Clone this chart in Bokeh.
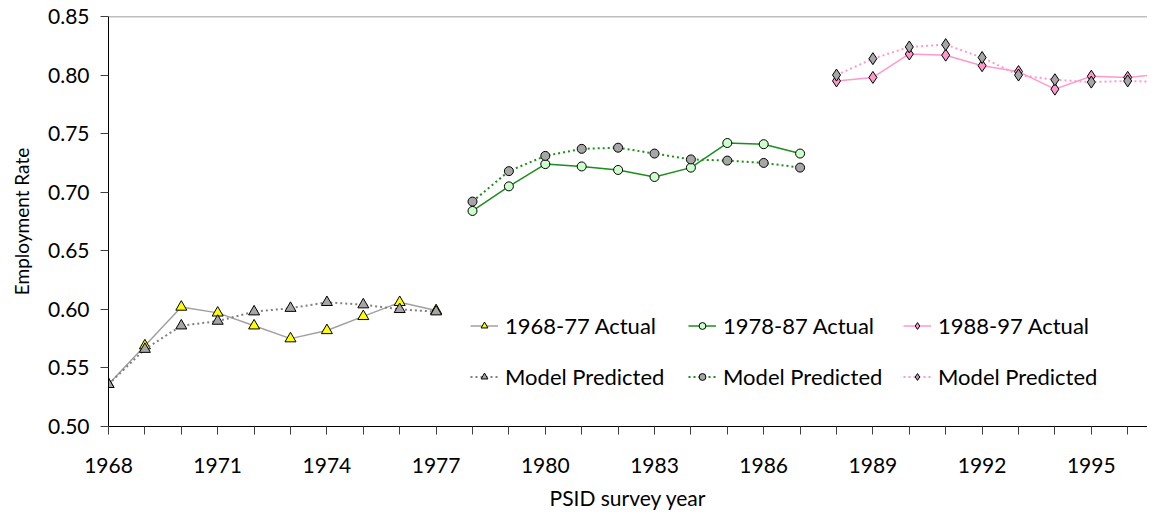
from bokeh.plotting import figure
from bokeh.models import (Range1d, FixedTicker, NumeralTickFormatter, Legend, LegendItem,
                          Span, ColumnDataSource)
from bokeh.embed import file_html
from bokeh.resources import INLINE

# ---- data ----
years_1 = list(range(1968, 1978))
actual_1 = [0.536, 0.569, 0.602, 0.597, 0.586, 0.575, 0.582, 0.594, 0.606, 0.599]
pred_1 = [0.536, 0.566, 0.586, 0.590, 0.598, 0.601, 0.606, 0.604, 0.600, 0.598]

years_2 = list(range(1978, 1988))
actual_2 = [0.684, 0.705, 0.724, 0.722, 0.719, 0.713, 0.721, 0.742, 0.741, 0.733]
pred_2 = [0.692, 0.718, 0.731, 0.737, 0.738, 0.733, 0.728, 0.727, 0.725, 0.721]

years_3 = list(range(1988, 1998))
actual_3 = [0.795, 0.798, 0.818, 0.817, 0.808, 0.803, 0.788, 0.799, 0.798, 0.801]
pred_3 = [0.800, 0.814, 0.824, 0.826, 0.815, 0.800, 0.796, 0.794, 0.795, 0.794]

labels_actual = ["1968-77 Actual", "1978-87 Actual", "1988-97 Actual"]
label_pred = "Model Predicted"

x_ticks = list(range(1968, 1997))
x_labeled = list(range(1968, 1997, 3))
y_ticks = [0.50, 0.55, 0.60, 0.65, 0.70, 0.75, 0.80, 0.85]

FONT = "Lato"
W, H = 1147, 512
ML, MT = 108, 16
MB = H - 426
px_per_year = 36.4
frame_w = W - ML

p = figure(width=W, height=H, output_backend="svg", toolbar_location=None,
           x_range=Range1d(1968, 1968 + frame_w / px_per_year),
           y_range=Range1d(0.50, 0.85),
           min_border_left=ML, min_border_right=0, min_border_top=MT, min_border_bottom=MB)
p.outline_line_color = None
p.xgrid.grid_line_color = None
p.ygrid.grid_line_color = None
p.background_fill_color = "white"
p.border_fill_color = "white"

# top border
p.add_layout(Span(location=0.85, dimension="width", line_color="#7f7f7f", line_width=1.5))

# axes
xa = p.xaxis[0]
xa.ticker = FixedTicker(ticks=x_ticks)
xa.major_label_overrides = {t: ("" if t not in x_labeled else str(t)) for t in x_ticks}
xa.major_tick_out = 8
xa.major_tick_in = 0
xa.minor_tick_line_color = None
xa.axis_line_color = "black"
xa.major_tick_line_color = "#404040"
xa.major_label_text_font = FONT
xa.major_label_text_font_size = "21px"
xa.major_label_text_color = "black"
xa.major_label_standoff = 23
xa.axis_label = "PSID survey year"
xa.axis_label_text_font = FONT
xa.axis_label_text_font_size = "21px"
xa.axis_label_text_font_style = "normal"
xa.axis_label_text_color = "black"
xa.axis_label_standoff = 9

ya = p.yaxis[0]
ya.ticker = FixedTicker(ticks=y_ticks)
ya.formatter = NumeralTickFormatter(format="0.00")
ya.major_tick_out = 8
ya.major_tick_in = 0
ya.minor_tick_line_color = None
ya.axis_line_color = "black"
ya.major_tick_line_color = "#404040"
ya.major_label_text_font = FONT
ya.major_label_text_font_size = "21px"
ya.major_label_text_color = "black"
ya.major_label_standoff = 11
ya.axis_label = "Employment Rate"
ya.axis_label_text_font = FONT
ya.axis_label_text_font_size = "19px"
ya.axis_label_text_font_style = "normal"
ya.axis_label_text_color = "black"
ya.axis_label_standoff = 12

series = [
    (years_1, actual_1, pred_1, "#a0a0a0", "#ffff00", "#808080", "triangle", 11),
    (years_2, actual_2, pred_2, "#1a8f1a", "#ccffcc", "#1a8f1a", "circle", 9),
    (years_3, actual_3, pred_3, "#ff99cc", "#ff99cc", "#ff99cc", "diamond", 12),
]

legends_items = []
for i, (yrs, act, prd, lc, fc, dc, mk, ms) in enumerate(series):
    src_a = ColumnDataSource(dict(x=yrs, y=act))
    src_p = ColumnDataSource(dict(x=yrs, y=prd))
    la = p.line("x", "y", source=src_a, line_color=lc, line_width=1.5)
    sa = p.scatter("x", "y", source=src_a, marker=mk, size=ms, fill_color=fc,
                   line_color="black", line_width=1)
    lp = p.line("x", "y", source=src_p, line_color=dc, line_width=2, line_dash="2 3")
    sp = p.scatter("x", "y", source=src_p, marker=mk, size=ms, fill_color="#a6a6a6",
                   line_color="black", line_width=1)
    legends_items.append([LegendItem(label=labels_actual[i], renderers=[la, sa]),
                          LegendItem(label=label_pred, renderers=[lp, sp])])

leg_x = [362, 580, 795]
for i, items in enumerate(legends_items):
    leg = Legend(items=items, location=(leg_x[i], 36), orientation="vertical",
                 border_line_color=None, background_fill_alpha=0,
                 padding=0, margin=0, spacing=24, glyph_width=28, glyph_height=17,
                 label_height=25, label_standoff=7,
                 label_text_font=FONT, label_text_font_size="22px", label_text_color="black")
    p.add_layout(leg)

open("out.html", "w").write(file_html(p, INLINE))
